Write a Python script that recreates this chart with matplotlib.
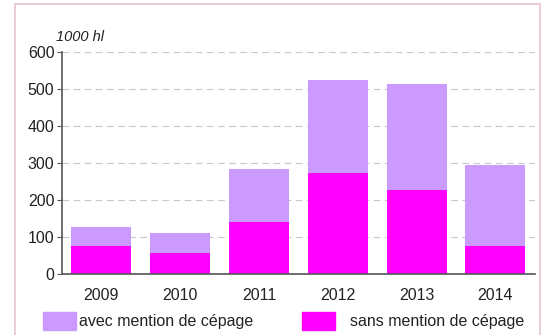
import matplotlib.pyplot as plt
from matplotlib.patches import Rectangle

years = ["2009", "2010", "2011", "2012", "2013", "2014"]
sans_mention = [76, 57, 140, 273, 227, 76]
total = [128, 110, 284, 524, 513, 295]
avec_mention = [t - s for t, s in zip(total, sans_mention)]

col_avec = "#cc99ff"
col_sans = "#ff00ff"

plt.rcParams["font.family"] = ["Liberation Sans", "DejaVu Sans"]

fig = plt.figure(figsize=(5.44, 3.35), dpi=100)
ax = fig.add_axes([0.114, 0.182, 0.869, 0.663])

x = range(len(years))
ax.bar(x, sans_mention, width=0.76, color=col_sans, zorder=2,
       label="sans mention de cépage")
ax.bar(x, avec_mention, width=0.76, bottom=sans_mention, color=col_avec,
       zorder=2, label="avec mention de cépage")

ax.set_xlim(-0.5, len(years) - 0.5)
ax.set_ylim(0, 600)
ax.set_yticks(range(0, 601, 100))
ax.set_xticks(list(x))
ax.set_xticklabels(years)
ax.yaxis.grid(True, color="#c8c8c8", linestyle=(0, (6, 4)), linewidth=0.8,
              zorder=0)
for side in ("top", "right"):
    ax.spines[side].set_visible(False)
for side in ("left", "bottom"):
    ax.spines[side].set_color("#555555")
    ax.spines[side].set_linewidth(1.2)
ax.tick_params(axis="y", length=3.5, color="#555555", labelsize=11.5,
               labelcolor="#222222", pad=2)
ax.tick_params(axis="x", length=0, labelsize=11.5, labelcolor="#222222",
               pad=10)

ax.text(-0.012, 1.035, "1000 hl", transform=ax.transAxes, fontsize=10.5,
        style="italic", color="#222222", ha="left", va="bottom")

# outer frame
fig.patches.append(Rectangle((0.028, -0.01), 0.965, 0.998,
                             transform=fig.transFigure, fill=False,
                             edgecolor="#e6c4d6", linewidth=1.2))

# two legend entries, placed separately
entries = [
    ("avec mention de cépage", col_avec, 43 / 544, 0.2),
    ("sans mention de cépage", col_sans, 302 / 544, 0.95),
]
for label, col, x0, gap in entries:
    leg = fig.legend([Rectangle((0, 0), 1, 1, color=col)], [label],
                     loc="center left", bbox_to_anchor=(x0, 0.042),
                     frameon=False, fontsize=11.5, handlelength=2.06,
                     handleheight=1.37, handletextpad=gap, borderpad=0,
                     borderaxespad=0, labelcolor="#222222")

fig.savefig("out.png", dpi=100)
